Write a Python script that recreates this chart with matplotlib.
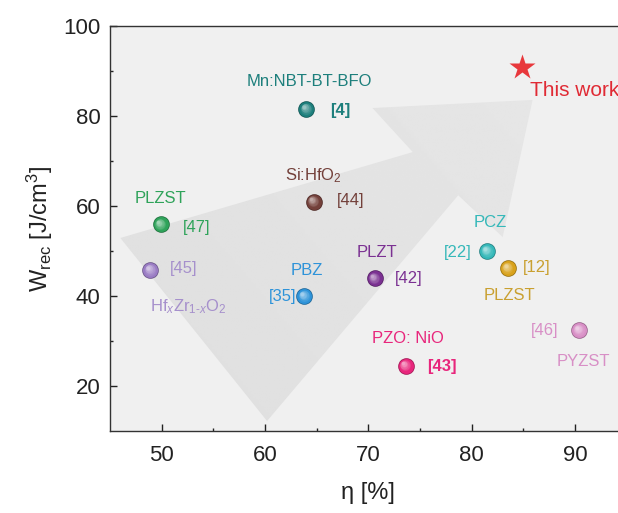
import numpy as np
import matplotlib
matplotlib.use("Agg")
import matplotlib.pyplot as plt
from matplotlib.patches import Polygon
from matplotlib.transforms import ScaledTranslation
from matplotlib.colors import to_rgb

plt.rcParams["font.family"] = ["Liberation Sans", "DejaVu Sans"]
plt.rcParams["mathtext.fontset"] = "custom"
plt.rcParams["mathtext.rm"] = "Liberation Sans"
plt.rcParams["mathtext.it"] = "Liberation Sans:italic"
plt.rcParams["mathtext.bf"] = "Liberation Sans:bold"

# reported materials: efficiency (%) vs recoverable energy density (J/cm3)
names = ["Mn:NBT-BT-BFO", "Si:HfO$_2$", "PLZST", "Hf$_x$Zr$_{1\u2010x}$O$_2$", "PBZ",
         "PLZT", "PZO: NiO", "PCZ", "PLZST", "PYZST"]
refs = ["[4]", "[44]", "[47]", "[45]", "[35]", "[42]", "[43]", "[22]", "[12]", "[46]"]
eta = [64.0, 64.7, 49.9, 48.9, 63.8, 70.6, 73.6, 81.5, 83.5, 90.4]
wrec = [81.6, 61.0, 55.9, 45.8, 40.0, 43.9, 24.5, 50.0, 46.2, 32.4]
colors = ["#1d7f7c", "#73403a", "#2fa35a", "#9a7cc4", "#2e93d9",
          "#7b3192", "#e8267c", "#35b8b9", "#d9a21c", "#d88fc6"]

this_eta, this_wrec = 84.9, 91.0

# label offsets in points: (name dx, name dy, ref dx, ref dy)
offsets = [(2, 19.5, 24.5, -1.5), (0, 18.7, 26.6, 0.7), (0, 18.7, 26, -2),
           (27.4, -26.6, 23.8, 0.7), (2, 18.7, -15.8, 0), (2, 18.7, 24.5, 0),
           (1.5, 19.4, 26, -0.7), (2, 20.9, -20.9, -0.7), (1.5, -20, 20.9, 0.7),
           (3, -22.3, -24.5, 0)]
ref_bold = [True, False, False, False, False, False, True, False, False, False]
name_colors = ["#1d7f7c", "#73403a", "#2fa35a", "#a690cc", "#2e93d9",
               "#7b3192", "#e8267c", "#35b8b9", "#c9a030", "#d88fc6"]

# big background arrow (data coords)
arrow_xy = [(60.2, 12.2), (46.0, 52.9), (74.3, 72.0), (70.4, 81.8),
            (85.9, 83.6), (83.0, 53.1), (78.7, 62.4)]

fig = plt.figure(figsize=(6.18, 5.13), dpi=100)
ax = fig.add_axes([0.178, 0.160, 0.836, 0.789])
ax.set_facecolor("#f0f0f0")
ax.set_xlim(45, 95)
ax.set_ylim(10, 100)

# arrow with a soft gradient, clipped to its outline
poly = Polygon(arrow_xy, closed=True, facecolor="none", edgecolor="none", zorder=1)
ax.add_patch(poly)
gx, gy = np.meshgrid(np.linspace(0, 1, 200), np.linspace(0, 1, 200))
grad = 0.872 + 0.035 * (0.6 * gx + 0.4 * gy)
img = ax.imshow(grad, extent=(45, 95, 10, 100), origin="lower", cmap="gray",
                vmin=0, vmax=1, aspect="auto", zorder=1, interpolation="bilinear")
img.set_clip_path(poly)


def ball(x, y, c, size=12):
    base = np.array(to_rgb(c))
    dark = base * 0.72
    ax.plot(x, y, "o", ms=size, mfc=dark, mec="none", zorder=5)
    ax.plot(x, y, "o", ms=size * 0.9, mfc=base, mec="none", zorder=5)
    steps = 6
    for i in range(steps):
        f = (i + 1) / steps
        col = base + (1 - base) * 0.55 * f
        off = ScaledTranslation(-1.6 * f / 72, 1.6 * f / 72, fig.dpi_scale_trans)
        ax.plot(x, y, "o", ms=size * (0.75 - 0.55 * f), mfc=col, mec="none",
                zorder=5, transform=ax.transData + off)


for i in range(len(eta)):
    ball(eta[i], wrec[i], colors[i])
    ndx, ndy, rdx, rdy = offsets[i]
    ax.annotate(names[i], (eta[i], wrec[i]), xytext=(ndx, ndy), textcoords="offset points",
                ha="center", va="center", fontsize=12, color=name_colors[i], zorder=6)
    ax.annotate(refs[i], (eta[i], wrec[i]), xytext=(rdx, rdy), textcoords="offset points",
                ha="center", va="center", fontsize=12, color=name_colors[i],
                fontweight="bold" if ref_bold[i] else "normal", zorder=6)

ax.plot(this_eta, this_wrec, "*", ms=19, color="#e8383c", mec="none", zorder=6)
ax.annotate("This work", (this_eta, this_wrec), xytext=(37.5, -17.3),
            textcoords="offset points", ha="center", va="center",
            fontsize=15, color="#e02a34", zorder=6)

ax.set_xticks([50, 60, 70, 80, 90])
ax.set_xticks([55, 65, 75, 85], minor=True)
ax.set_yticks([20, 40, 60, 80, 100])
ax.set_yticks([30, 50, 70, 90], minor=True)
ax.tick_params(which="both", direction="in", colors="#222222", labelsize=16,
               width=1, pad=7)
ax.tick_params(axis="x", which="major", pad=10)
ax.tick_params(which="major", length=5)
ax.tick_params(which="minor", length=2.5)
for s in ["top", "left", "bottom"]:
    ax.spines[s].set_color("#333333")
    ax.spines[s].set_linewidth(1)
ax.spines["right"].set_visible(False)

ax.set_xlabel("η [%]", fontsize=17, color="#222222", labelpad=12)
ax.set_ylabel(r"W$_{\mathrm{rec}}$ [J/cm$^3$]", fontsize=17, color="#222222", labelpad=6)

fig.savefig("out.png", dpi=100)
